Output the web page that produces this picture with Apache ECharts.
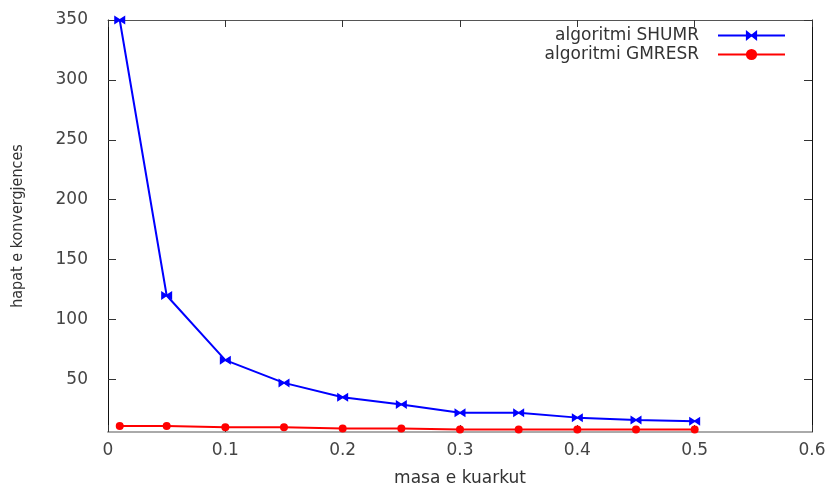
<!DOCTYPE html>
<html>
<head>
<meta charset="utf-8">
<script src="https://cdn.jsdelivr.net/npm/echarts@6/dist/echarts.min.js"></script>
<style>
  html, body { margin: 0; padding: 0; background: #fff; }
  #chart { width: 827px; height: 486px; }
</style>
</head>
<body>
<div id="chart"></div>
<script>
// --- data ---
const xValues = [0.01, 0.05, 0.1, 0.15, 0.2, 0.25, 0.3, 0.35, 0.4, 0.45, 0.5];
const shumr = [350, 120, 66, 47, 35, 29, 22, 22, 18, 16, 15];
const gmresr = [11, 11, 10, 10, 9, 9, 8, 8, 8, 8, 8];
const yTicks = [50, 100, 150, 200, 250, 300, 350];
const seriesNames = ['algoritmi SHUMR', 'algoritmi GMRESR'];

const FONT = 'DejaVu Sans';
const NARROW = "'DejaVu Sans Condensed', 'Liberation Sans', sans-serif";
const bowtie = 'path://M0,0L5,4L10,0L10,10L5,6L0,10Z';

const chart = echarts.init(document.getElementById('chart'));

const pairs = (ys) => xValues.map((x, i) => [x, ys[i]]);

const option = {
  backgroundColor: '#fff',
  animation: false,
  grid: { left: 108, right: 15, top: 20, bottom: 54, outerBoundsMode: 'none' },
  legend: {
    orient: 'vertical',
    align: 'right',
    right: 36,
    top: 22,
    itemWidth: 67,
    itemHeight: 14,
    itemGap: 2,
    textStyle: { fontFamily: FONT, fontSize: 17, color: '#333', padding: [0, 14, 0, 0] },
    data: seriesNames
  },
  xAxis: [
    {
      type: 'value', min: 0, max: 0.6, interval: 0.1,
      name: 'masa e kuarkut', nameLocation: 'middle', nameGap: 38,
      nameTextStyle: { fontFamily: FONT, fontSize: 17, color: '#333' },
      axisLine: { onZero: false, lineStyle: { color: '#aaa', width: 2 } },
      axisTick: { inside: true, length: 7, lineStyle: { color: '#333' } },
      axisLabel: {
        fontFamily: FONT, fontSize: 17, color: '#444', margin: 10,
        formatter: v => v === 0 ? '0' : v.toFixed(1)
      },
      splitLine: { show: false }
    },
    {
      type: 'value', min: 0, max: 0.6, interval: 0.1, position: 'top',
      axisLine: { onZero: false, lineStyle: { color: '#555', width: 1 } },
      axisTick: { inside: true, length: 7, lineStyle: { color: '#333' } },
      axisLabel: { show: false },
      splitLine: { show: false }
    }
  ],
  yAxis: [
    {
      type: 'value', min: 6, max: 350,
      name: 'hapat e konvergjences', nameLocation: 'middle', nameGap: 82, nameRotate: 90,
      nameTextStyle: { fontFamily: NARROW, fontSize: 16, color: '#333' },
      axisLine: { onZero: false, lineStyle: { color: '#111', width: 1 } },
      axisTick: { inside: true, length: 8, lineStyle: { color: '#333' }, customValues: yTicks },
      axisLabel: { fontFamily: FONT, fontSize: 17, color: '#444', margin: 20, customValues: yTicks },
      splitLine: { show: false }
    },
    {
      type: 'value', min: 6, max: 350, position: 'right',
      axisLine: { show: true, onZero: false, lineStyle: { color: '#111', width: 1 } },
      axisTick: { inside: true, length: 8, lineStyle: { color: '#333' }, customValues: yTicks },
      axisLabel: { show: false },
      splitLine: { show: false }
    }
  ],
  series: [
    {
      name: seriesNames[1], type: 'line', data: pairs(gmresr),
      symbol: 'circle', symbolSize: 8,
      itemStyle: { color: '#ff0000' },
      lineStyle: { color: '#ff0000', width: 2 },
      z: 2
    },
    {
      name: seriesNames[0], type: 'line', data: pairs(shumr),
      symbol: bowtie, symbolSize: [11, 9],
      itemStyle: { color: '#0000ff' },
      lineStyle: { color: '#0000ff', width: 2 },
      z: 3
    }
  ]
};

chart.setOption(option);
</script>
</body>
</html>
